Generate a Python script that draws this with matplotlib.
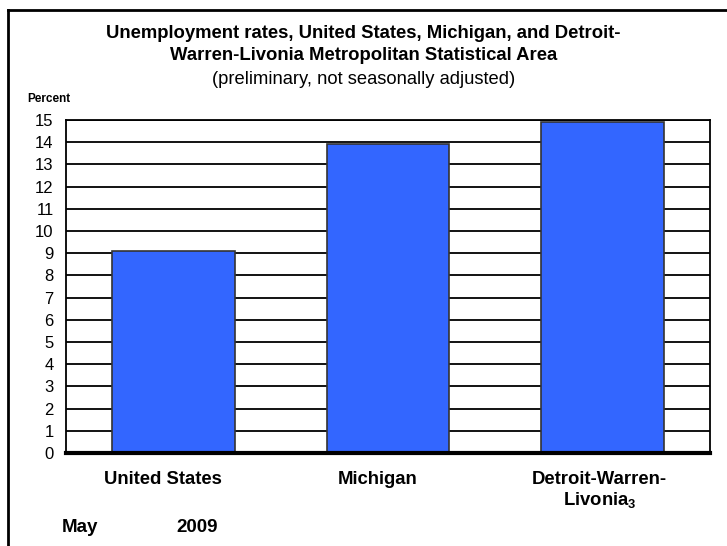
import matplotlib.pyplot as plt
import numpy as np
from matplotlib.lines import Line2D

CATEGORIES = ["United States", "Michigan", "Detroit-Warren-\nLivonia$_{\\mathbf{3}}$"]
RATES = [9.1, 13.9, 14.9]
Y_TICKS = list(range(0, 16))

plt.rcParams["font.family"] = ["Liberation Sans", "DejaVu Sans"]
plt.rcParams["mathtext.fontset"] = "custom"
plt.rcParams["mathtext.rm"] = "Liberation Sans"
plt.rcParams["mathtext.bf"] = "Liberation Sans:bold"

fig = plt.figure(figsize=(7.27, 5.46), dpi=100)
ax = fig.add_axes([66 / 727, 1 - 453 / 546, 644 / 727, 333 / 546])

x = np.arange(len(CATEGORIES))
ax.bar(x, RATES, width=0.57, color="#3366FF", edgecolor="#333333", linewidth=1.2, zorder=3)

ax.set_xlim(-0.5, len(CATEGORIES) - 0.5)
ax.set_ylim(0, 15)
ax.set_yticks(Y_TICKS)
ax.set_yticklabels([str(t) for t in Y_TICKS], fontsize=12)
ax.tick_params(axis="y", length=0, pad=9)
ax.grid(axis="y", color="black", linewidth=1.3, zorder=1)

# category labels sit a little left of the bar centres in the original
ax.set_xticks(x + np.array([-0.047, -0.05, -0.014]))
ax.set_xticklabels(CATEGORIES, fontsize=13.3, fontweight="bold", va="top", linespacing=1.15)
ax.tick_params(axis="x", length=0, pad=13)

for side in ["left", "right", "top"]:
    ax.spines[side].set_linewidth(1.3)
ax.spines["bottom"].set_linewidth(3)
ax.spines["bottom"].set_zorder(5)

fig.text(0.5, 1 - 34 / 546, "Unemployment rates, United States, Michigan, and Detroit-",
         ha="center", va="center", fontsize=13.3, fontweight="bold")
fig.text(0.5, 1 - 56 / 546, "Warren-Livonia Metropolitan Statistical Area",
         ha="center", va="center", fontsize=13.3, fontweight="bold")
fig.text(0.5, 1 - 80 / 546, "(preliminary, not seasonally adjusted)",
         ha="center", va="center", fontsize=13.2)
fig.text(27 / 727, 1 - 99 / 546, "Percent", ha="left", va="center", fontsize=8.5, fontweight="bold")
fig.text(62 / 727, 1 - 528 / 546, "May", ha="left", va="center", fontsize=13.5, fontweight="bold")
fig.text(176 / 727, 1 - 528 / 546, "2009", ha="left", va="center", fontsize=13.5, fontweight="bold")

# outer frame: only top and left edges show
fig.add_artist(Line2D([8 / 727, 8 / 727], [0, 1 - 10 / 546], transform=fig.transFigure,
                      color="black", linewidth=2))
fig.add_artist(Line2D([8 / 727, 1], [1 - 10 / 546, 1 - 10 / 546], transform=fig.transFigure,
                      color="black", linewidth=2))

fig.savefig("out.png", dpi=100)
